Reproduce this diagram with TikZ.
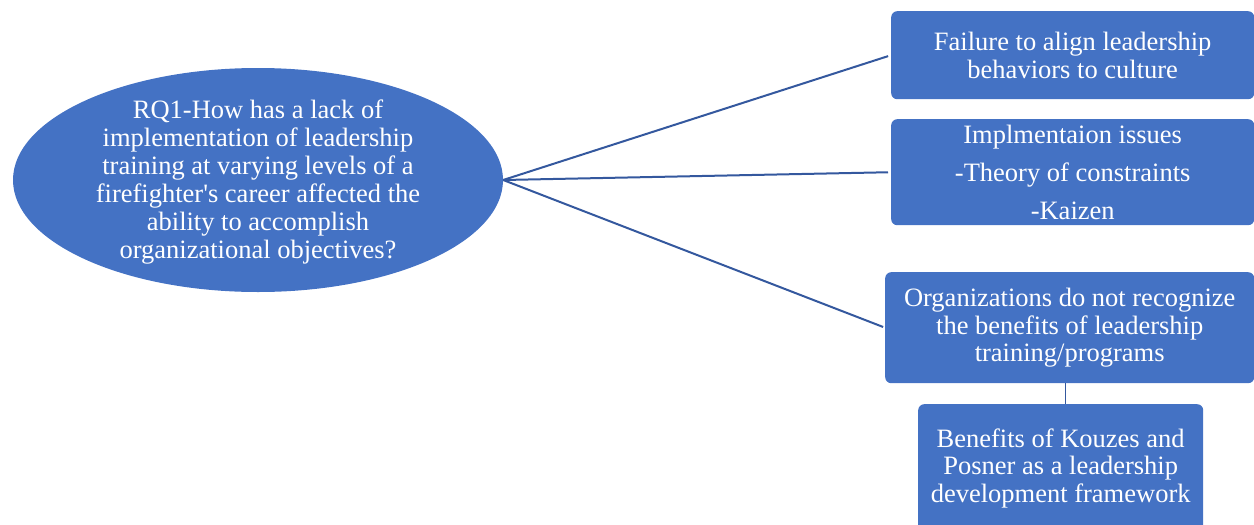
\documentclass[tikz,border=0pt]{standalone}
\usepackage{fontspec}
\setmainfont{Liberation Serif}
\usetikzlibrary{shapes.geometric}
\definecolor{boxblue}{HTML}{4472C4}
\definecolor{lineblue}{HTML}{34589E}
\tikzset{
  txt/.style={text=white,font=\fontsize{26.5}{27.5}\selectfont,align=center},
  card/.style={txt,fill=boxblue,rounded corners=6pt,inner sep=0pt,anchor=north west},
  link/.style={draw=lineblue,line width=2pt}
}
\begin{document}
\begin{tikzpicture}[x=1pt,y=-1pt]
\useasboundingbox (0,0) rectangle (1254,525);
\clip (0,0) rectangle (1254,525);
\node[ellipse,fill=boxblue,minimum width=490pt,minimum height=224pt,inner sep=0pt] (q) at (258,180) {};
\node[txt,font=\fontsize{26.5}{28}\selectfont] (qt) at (258,182)
  {RQ1-How has a lack of\\implementation of leadership\\training at varying levels of a\\firefighter\textquotesingle s career affected the\\ability to accomplish\\organizational objectives?};
\node[card,minimum width=363pt,minimum height=88pt] (b1) at (891,11)
  {Failure to align leadership\\behaviors to culture};
\node[card,minimum width=363pt,minimum height=106pt] (b2) at (891,119)
  {Implmentaion issues\\[10.5pt]-Theory of constraints\\[10.5pt]-Kaizen};
\node[card,minimum width=369pt,minimum height=111pt] (b3) at (885,272)
  {Organizations do not recognize\\the benefits of leadership\\training/programs};
\node[card,minimum width=285pt,minimum height=128pt] (b4) at (918,404)
  {Benefits of Kouzes and\\Posner as a leadership\\development framework};
\draw[link,shorten >=3pt] (q.east) -- (b1.west);
\draw[link,shorten >=3pt] (q.east) -- (b2.west);
\draw[link,shorten >=2pt] (q.east) -- (b3.west);
\draw[draw=lineblue,line width=1pt] (b3.south) ++(-4.5,0) coordinate (c1) -- (c1 |- b4.north);
\end{tikzpicture}
\end{document}
